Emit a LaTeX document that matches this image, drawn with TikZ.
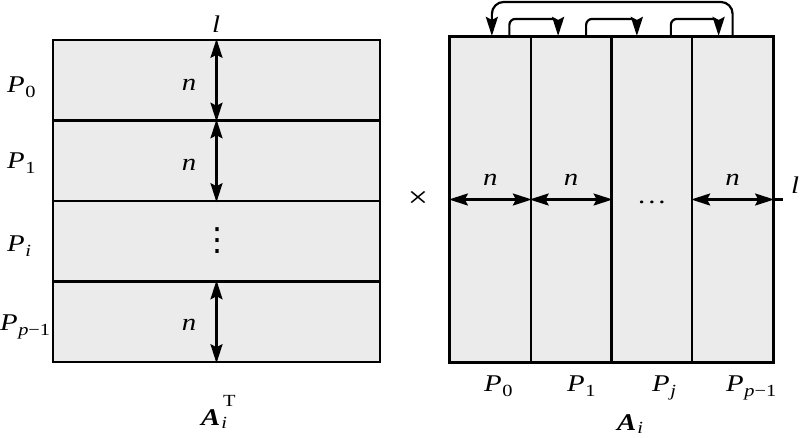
\documentclass[tikz,border=0pt]{standalone}
\usepackage{fontspec}
\setmainfont{Liberation Serif}[FakeStretch=1.2]
\newfontfamily\djv{DejaVu Sans}
\usetikzlibrary{arrows.meta}
\newcommand{\subsz}{\fontsize{17}{17}\selectfont}
\newcommand{\PP}[1]{\textit{P}\kern0.5pt\raisebox{-5pt}{\subsz #1}}
\begin{document}
\begin{tikzpicture}[x=1pt,y=-1pt,
  font=\fontsize{24}{26}\selectfont,
  cell/.style={draw=black, line width=2.4pt, fill=black!8, inner sep=0pt},
  col/.style={draw=black, line width=2.2pt, fill=black!8, inner sep=0pt, minimum width=80.75pt, minimum height=325pt},
  row/.style={cell, minimum width=327pt, minimum height=80.5pt},
  tip/.tip={Stealth[length=19pt,width=12pt,inset=3pt]},
  dim/.style={line width=2.2pt, tip-tip},
  loop/.style={line width=2.2pt, -tip},
  lbl/.style={inner sep=0pt, anchor=base},
  lblw/.style={inner sep=0pt, anchor=base west}]
\useasboundingbox (0,0) rectangle (800,437);
% left matrix
\node[row] (r0) at (216.5,80.25) {};
\node[row] (r1) at (216.5,120.5+40.25) {};
\node[row] (r2) at (216.5,201+40.25) {};
\node[row] (r3) at (216.5,281.5+40.25) {};
\draw[dim] (r0.north) -- (r0.south);
\draw[dim] (r1.north) -- (r1.south);
\draw[dim] (r3.north) -- (r3.south);
\node[lbl] (nl0) at (189,90) {\textit{n}};
\node[lbl] (nl1) at (189,170) {\textit{n}};
\node[lbl] (nl3) at (189,330) {\textit{n}};
\node[inner sep=0pt, font=\fontsize{32}{32}\djv] (vd) at (217,241) {⋮};
\node[lbl] (ltop) at (216,32) {\textit{l}};
\node[lblw] (p0) at (7,92) {\PP{0}};
\node[lblw] (p1) at (7,168) {\PP{1}};
\node[lblw] (pi) at (7,251) {\PP{\textit{i}}};
\node[lblw] (pp) at (0,330) {\PP{\textit{p}−1}};
\node[lblw] (AT) at (201,425) {\textbf{\textit{A}}\kern1pt\raisebox{-3pt}{\subsz\textit{i}}\kern-4pt\raisebox{19pt}{\subsz T}};
% times
\node[inner sep=0pt, font=\fontsize{30}{32}\selectfont] (times) at (418,199.5) {×};
% right matrix
\node[col] (c0) at (450+40.375,199.5) {};
\node[col] (c1) at (450+121.125,199.5) {};
\node[col] (c2) at (450+201.875,199.5) {};
\node[col] (c3) at (450+282.625,199.5) {};
\draw[line width=2.4pt] (c0.north west) rectangle (c3.south east);
\draw[dim] (c0.west) -- (c0.east);
\draw[dim] (c1.west) -- (c1.east);
\draw[dim] (c3.west) -- (c3.east);
\coordinate (lend) at (783,199.5);
\draw[line width=2.2pt] (c3.east) -- (lend);
\node[lbl] (lright) at (795,193) {\textit{l}};
\node[lbl] (nr0) at (c0 |- 0,185) {\textit{n}};
\node[lbl] (nr1) at (c1 |- 0,185) {\textit{n}};
\node[lbl] (nr3) at (c3 |- 0,185) {\textit{n}};
\node[lbl] (hd) at (c2 |- 0,203) {.\kern3pt.\kern3pt.};
% loop arrows
\draw[loop, rounded corners=12pt] (c3.north) -- ++(0,-34) -| ([xshift=1.5pt]c0.north);
\draw[loop, rounded corners=6pt] ([xshift=19pt]c0.north) -- ++(0,-17) -| ([xshift=-13pt]c1.north);
\draw[loop, rounded corners=6pt] ([xshift=15pt]c1.north) -- ++(0,-17) -| ([xshift=-15pt]c2.north);
\draw[loop, rounded corners=6pt] ([xshift=19pt]c2.north) -- ++(0,-17) -| ([xshift=-14pt]c3.north);
% bottom labels
\node[lblw] (q0) at (484,391) {\PP{0}};
\node[lblw] (q1) at (567,391) {\PP{1}};
\node[lblw] (qj) at (652,391) {\PP{\textit{j}}};
\node[lblw] (qp) at (726,391) {\PP{\textit{p}−1}};
\node[lblw] (Ai) at (617,430) {\textbf{\textit{A}}\kern1pt\raisebox{-3pt}{\subsz\textit{i}}};
\end{tikzpicture}
\end{document}
